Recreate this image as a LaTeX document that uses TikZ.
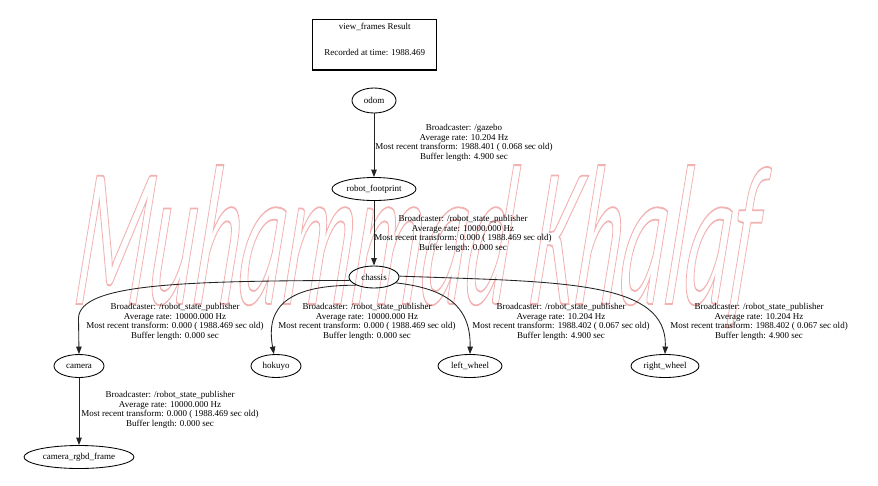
\documentclass[tikz,border=0pt]{standalone}
\usepackage{fontspec}
\setmainfont{Liberation Serif}
\newfontfamily\wmfamily{Carlito}
\usetikzlibrary{arrows.meta,shapes.geometric}
\definecolor{wmcol}{RGB}{242,178,178}
\definecolor{edgecol}{RGB}{35,35,35}
\newcommand\lbfont{\fontsize{9}{9.5}\selectfont}
\newcommand\wmfont{\wmfamily\itshape\fontsize{100}{100}\selectfont}
\newcommand\wmtext{\special{pdf:literal direct 1 Tr 0.9 w}Muhammad Khalaf\special{pdf:literal direct 0 Tr}}
\tikzset{
  frame/.style={draw=black, line width=0.85pt, ellipse, inner sep=0pt, minimum height=23pt, font=\lbfont},
  lbl/.style={align=center, inner sep=0pt, font=\lbfont},
  edge/.style={draw=edgecol, line width=0.85pt, -{Triangle[length=7.5pt,width=5.5pt]}},
  wmark/.style={font=\wmfont, inner sep=0pt, anchor=base, xslant=0.11, xscale=0.87, yscale=2.0}
}
\begin{document}
\begin{tikzpicture}[x=1pt,y=-1pt]
\useasboundingbox[fill=white] (0,0) rectangle (878,485);
% watermark (outlined text)
\node[wmark, text=wmcol] (wmark) at (412,304) {\wmtext};
% title
\node[draw=black, line width=1.2pt, minimum width=124pt, minimum height=50.7pt, inner sep=0pt] (title) at (374.7,44.6) {};
\node[lbl] (t1) at (374.7,26.7) {view\_frames Result};
\node[lbl] (t2) at (374.7,52.3) {Recorded at time: 1988.469};
% frames
\node[frame, minimum width=44pt, minimum height=25pt] (odom) at (374,100.5) {odom};
\node[frame, minimum width=84pt] (robot_footprint) at (374,189) {robot\_footprint};
\node[frame, minimum width=50pt, minimum height=22pt] (chassis) at (374,277) {chassis};
\node[frame, minimum width=50pt] (camera) at (79,366) {camera};
\node[frame, minimum width=50pt] (hokuyo) at (276,366) {hokuyo};
\node[frame, minimum width=64pt] (left_wheel) at (470,366) {left\_wheel};
\node[frame, minimum width=68pt] (right_wheel) at (665,366) {right\_wheel};
\node[frame, minimum width=110pt] (camera_rgbd_frame) at (79,457) {camera\_rgbd\_frame};
% edges
\draw[edge] (odom) -- (robot_footprint);
\draw[edge] (robot_footprint) -- (chassis);
\draw[edge] (chassis.188) .. controls (180,281) and (80,284) .. (78.5,318) -- (camera.north);
\draw[edge] (chassis.205) .. controls (290,285) and (265,305) .. (hokuyo.100);
\draw[edge] (chassis.345) .. controls (440,288) and (471,302) .. (left_wheel.north);
\draw[edge] (chassis.2) .. controls (560,282) and (668,280) .. (right_wheel.north);
\draw[edge] (camera) -- (camera_rgbd_frame);
% edge labels
\node[lbl] (l1) at (464,143) {Broadcaster: /gazebo\\Average rate: 10.204 Hz\\Most recent transform: 1988.401 ( 0.068 sec old)\\Buffer length: 4.900 sec};
\node[lbl] (l2) at (463,234) {Broadcaster: /robot\_state\_publisher\\Average rate: 10000.000 Hz\\Most recent transform: 0.000 ( 1988.469 sec old)\\Buffer length: 0.000 sec};
\node[lbl] (l3) at (175,322) {Broadcaster: /robot\_state\_publisher\\Average rate: 10000.000 Hz\\Most recent transform: 0.000 ( 1988.469 sec old)\\Buffer length: 0.000 sec};
\node[lbl] (l4) at (367,322) {Broadcaster: /robot\_state\_publisher\\Average rate: 10000.000 Hz\\Most recent transform: 0.000 ( 1988.469 sec old)\\Buffer length: 0.000 sec};
\node[lbl] (l5) at (561,322) {Broadcaster: /robot\_state\_publisher\\Average rate: 10.204 Hz\\Most recent transform: 1988.402 ( 0.067 sec old)\\Buffer length: 4.900 sec};
\node[lbl] (l6) at (759,322) {Broadcaster: /robot\_state\_publisher\\Average rate: 10.204 Hz\\Most recent transform: 1988.402 ( 0.067 sec old)\\Buffer length: 4.900 sec};
\node[lbl] (l7) at (170,410) {Broadcaster: /robot\_state\_publisher\\Average rate: 10000.000 Hz\\Most recent transform: 0.000 ( 1988.469 sec old)\\Buffer length: 0.000 sec};
\end{tikzpicture}
\end{document}
